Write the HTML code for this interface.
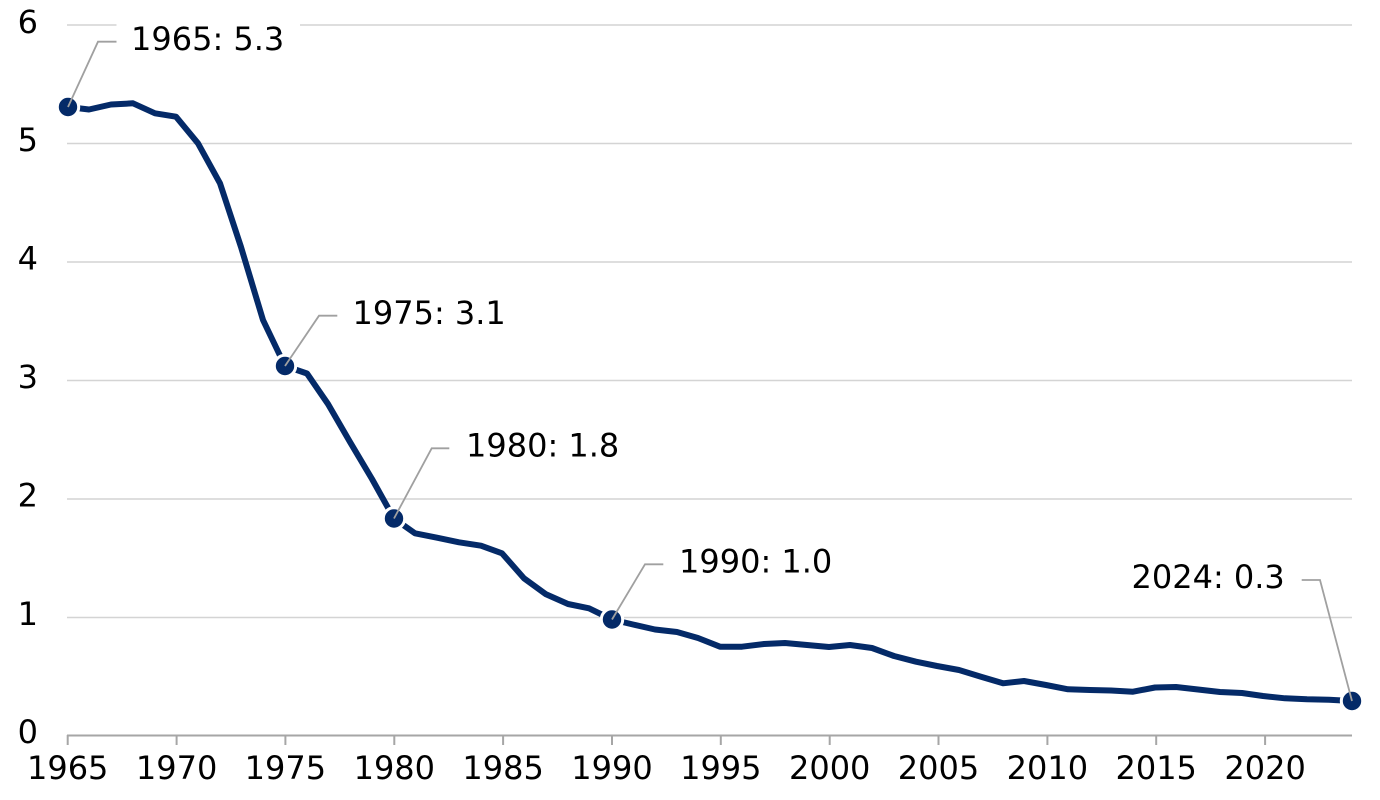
<!DOCTYPE html>
<html>
<head>
<meta charset="utf-8">
<style>
  html, body { margin: 0; padding: 0; background: #ffffff; }
  svg { display: block; }
  text { font-family: "DejaVu Sans", "Liberation Sans", sans-serif; font-size: 32px; fill: #000; }
</style>
</head>
<body>
<svg width="1380" height="800" viewBox="0 0 1380 800" xmlns="http://www.w3.org/2000/svg">
  <!-- gridlines -->
  <g stroke="#d4d4d4" stroke-width="1.5">
    <line x1="67" y1="25" x2="1352" y2="25"/>
    <line x1="67" y1="143.5" x2="1352" y2="143.5"/>
    <line x1="67" y1="262" x2="1352" y2="262"/>
    <line x1="67" y1="380.5" x2="1352" y2="380.5"/>
    <line x1="67" y1="499" x2="1352" y2="499"/>
    <line x1="67" y1="617.5" x2="1352" y2="617.5"/>
  </g>
  <!-- x axis -->
  <g stroke="#a6a6a6" stroke-width="2">
    <line x1="67" y1="735.5" x2="1352" y2="735.5"/>
    <line x1="67.7" y1="735" x2="67.7" y2="745"/>
    <line x1="176.6" y1="735" x2="176.6" y2="745"/>
    <line x1="285.4" y1="735" x2="285.4" y2="745"/>
    <line x1="394.3" y1="735" x2="394.3" y2="745"/>
    <line x1="503.1" y1="735" x2="503.1" y2="745"/>
    <line x1="612" y1="735" x2="612" y2="745"/>
    <line x1="720.8" y1="735" x2="720.8" y2="745"/>
    <line x1="829.7" y1="735" x2="829.7" y2="745"/>
    <line x1="938.5" y1="735" x2="938.5" y2="745"/>
    <line x1="1047.4" y1="735" x2="1047.4" y2="745"/>
    <line x1="1156.2" y1="735" x2="1156.2" y2="745"/>
    <line x1="1265.1" y1="735" x2="1265.1" y2="745"/>
  </g>
  <!-- y labels -->
  <g text-anchor="end">
    <text x="38" y="33">6</text>
    <text x="38" y="151">5</text>
    <text x="38" y="269.5">4</text>
    <text x="38" y="388">3</text>
    <text x="38" y="506.5">2</text>
    <text x="38" y="625">1</text>
    <text x="38" y="743">0</text>
  </g>
  <!-- x labels -->
  <g text-anchor="middle">
    <text x="67.7" y="779">1965</text>
    <text x="176.6" y="779">1970</text>
    <text x="285.4" y="779">1975</text>
    <text x="394.3" y="779">1980</text>
    <text x="503.1" y="779">1985</text>
    <text x="612" y="779">1990</text>
    <text x="720.8" y="779">1995</text>
    <text x="829.7" y="779">2000</text>
    <text x="938.5" y="779">2005</text>
    <text x="1047.4" y="779">2010</text>
    <text x="1156.2" y="779">2015</text>
    <text x="1265.1" y="779">2020</text>
  </g>
  <!-- label background for 1965 -->
  <rect x="116.5" y="15" width="183.5" height="40" fill="#ffffff"/>
  <!-- series line -->
  <polyline fill="none" stroke="#042a68" stroke-width="6" stroke-linejoin="round" stroke-linecap="butt"
    points="68,107 89,109.5 111,104.5 133,103.3 155,113.3 176,116.7 198,143.3 220,183.3 241,247 263,320 285,366 307,373.5 328,404 350,442 372,479 394,518.5 415,533.3 437,537.7 459,542.3 481,545.7 502,553.3 524,578.3 546,594.3 568,604 589,608.3 612,619.5 633,624.5 655,629.5 677,632 698,638 720,646.7 742,646.7 764,644 785,643 807,645 829,647 850,645 872,648 894,656 916,661.7 937,666 959,670 981,676.7 1003,683.3 1024,681 1046,685 1068,689.3 1090,690 1111,690.5 1133,691.7 1155,687.5 1176,687 1198,689.5 1220,692 1242,693 1263,696 1285,698.3 1307,699.3 1329,699.7 1352,701"/>
  <!-- markers -->
  <g fill="#042a68" stroke="#ffffff" stroke-width="3">
    <circle cx="68" cy="107" r="10.7"/>
    <circle cx="285" cy="366" r="10.7"/>
    <circle cx="394" cy="518.5" r="10.7"/>
    <circle cx="612" cy="619.5" r="10.7"/>
    <circle cx="1352" cy="701" r="10.7"/>
  </g>
  <!-- leader lines -->
  <g fill="none" stroke="#a0a0a0" stroke-width="1.8">
    <polyline points="68,107 98,41.7 116.5,41.7"/>
    <polyline points="285,366 319,315.7 337.3,315.7"/>
    <polyline points="394,518.5 431.7,448.3 449.3,448.3"/>
    <polyline points="612,619.5 645,564.3 663.3,564.3"/>
    <polyline points="1301.7,580 1320,580 1352,701"/>
  </g>
  <!-- data labels -->
  <text x="131" y="50">1965: 5.3</text>
  <text x="352.5" y="324">1975: 3.1</text>
  <text x="466" y="456.5">1980: 1.8</text>
  <text x="679" y="572.5">1990: 1.0</text>
  <text x="1131.5" y="588">2024: 0.3</text>
</svg>
</body>
</html>
